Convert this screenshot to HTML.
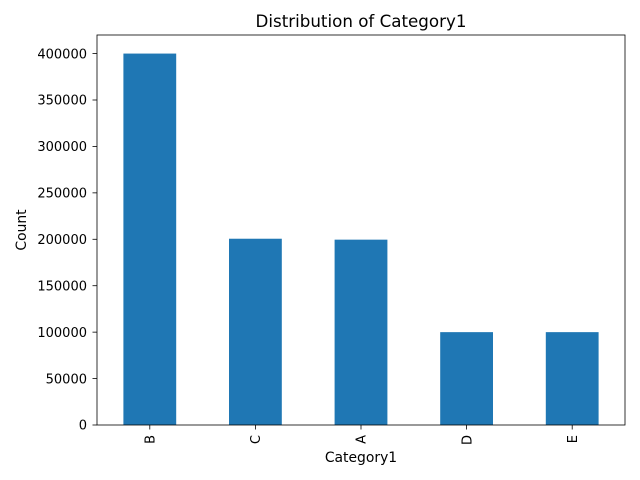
<!DOCTYPE html>
<html><head><meta charset="utf-8"><style>
html,body{margin:0;padding:0;background:#fff;}
svg{display:block;font-family:"DejaVu Sans","Liberation Sans",sans-serif;}
</style></head><body>
<svg id="chart" width="640" height="480" viewBox="0 0 640 480"></svg>
<script>
const categories = ["B","C","A","D","E"];
const counts = [400000, 200600, 199600, 100000, 100000];
const yTicks = [0,50000,100000,150000,200000,250000,300000,350000,400000];

const svg = document.getElementById('chart');
const NS = 'http://www.w3.org/2000/svg';
const L=97, R=625, T=35, B=425;
const yMax = Math.max(...counts)*1.05;
const y = v => B - v/yMax*(B-T);
const unit = (R-L)/categories.length;
const x = i => L + unit*(i+0.5);
function mk(tag, attrs, text){const e=document.createElementNS(NS,tag);for(const k in attrs)e.setAttribute(k,attrs[k]);if(text!==undefined)e.textContent=text;svg.appendChild(e);return e;}

counts.forEach((v,i)=>{
  const r = mk('rect',{x:x(i)-unit*0.25,y:y(v),width:unit*0.5,height:B-y(v),fill:'#1f77b4'});
  
  
});
const frame = mk('rect',{x:L,y:T,width:R-L,height:B-T,fill:'none',stroke:'#000','stroke-width':0.8});



yTicks.forEach(t=>{
  const yy=y(t);
  mk('line',{x1:L-4.5,x2:L,y1:yy,y2:yy,stroke:'#000','stroke-width':0.8});
  const tx = mk('text',{x:L-10,y:yy+4.7,'text-anchor':'end','font-size':13,fill:'#000'},String(t));
  
  
});
categories.forEach((c,i)=>{
  const xx=x(i);
  mk('line',{x1:xx,x2:xx,y1:B,y2:B+4.5,stroke:'#000','stroke-width':0.8});
  const tx = mk('text',{x:0,y:0,'text-anchor':'end','font-size':13,fill:'#000',transform:`translate(${xx+4.7},${B+10}) rotate(-90)`},c);
  
  
});
const t1 = mk('text',{x:(L+R)/2,y:27,'text-anchor':'middle','font-size':16.7,fill:'#000'},'Distribution of Category1');


const t2 = mk('text',{x:(L+R)/2,y:462,'text-anchor':'middle','font-size':13.9,fill:'#000'},'Category1');


const t3 = mk('text',{x:0,y:0,'text-anchor':'middle','font-size':13.9,fill:'#000',transform:`translate(26,${(T+B)/2}) rotate(-90)`},'Count');


</script>
</body></html>
